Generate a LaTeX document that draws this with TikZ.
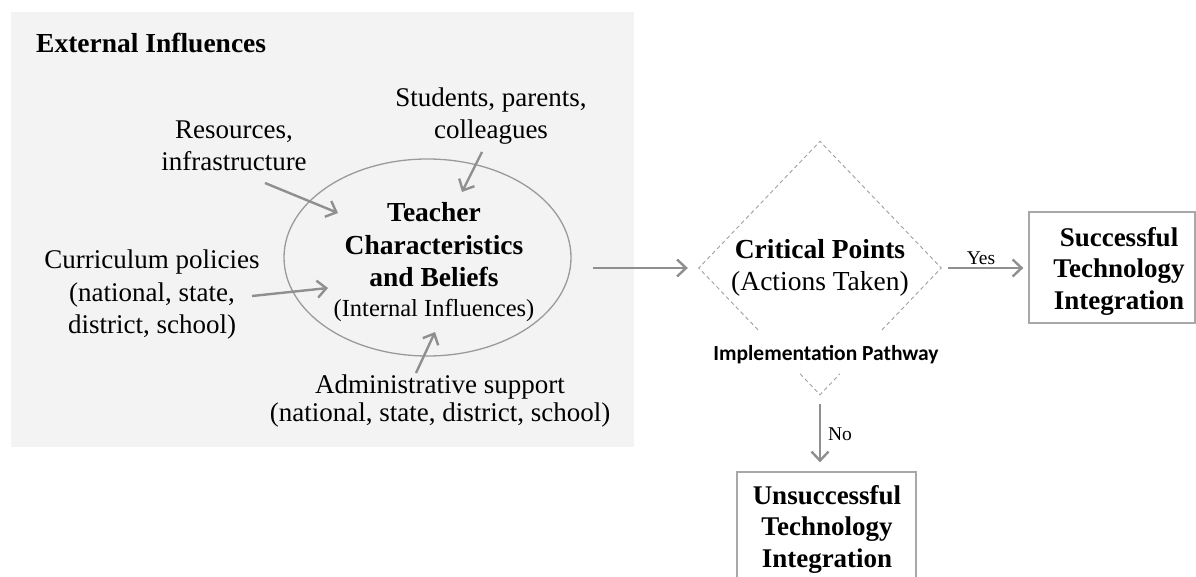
\documentclass[tikz,border=0pt]{standalone}
\usepackage{fontspec}
\setmainfont{Liberation Serif}
\newfontfamily\calibrifont{Carlito}
\usetikzlibrary{shapes.geometric,arrows.meta,calc}
\definecolor{bggray}{HTML}{F3F3F3}
\definecolor{arrgray}{HTML}{8F8F8F}
\definecolor{linegray}{HTML}{9A9A9A}
\definecolor{boxgray}{HTML}{A8A8A8}
\definecolor{dashgray}{HTML}{A0A0A0}
\tikzset{
  txt/.style={align=center,inner sep=0pt,font=\fontsize{27}{32.5}\selectfont},
  btxt/.style={align=center,inner sep=0pt,font=\fontsize{27}{31.5}\selectfont\bfseries},
  lbl/.style={inner sep=0pt,font=\fontsize{19.5}{22}\selectfont},
  arr/.style={draw=arrgray,line width=2.4pt,-{Straight Barb[length=9pt,width=17pt]}},
  outbox/.style={draw=boxgray,line width=1.3pt,inner sep=0pt},
  dashedge/.style={draw=dashgray,line width=0.9pt,dash pattern=on 4pt off 3pt},
}
\begin{document}
\begin{tikzpicture}[x=1pt,y=-1pt]
\useasboundingbox (0,0) rectangle (1196,577);
\clip (0,0) rectangle (1196,577);
% background panel
\node[fill=bggray,inner sep=0pt,minimum width=623,minimum height=435,anchor=north west] (panel) at (11,12) {};
\node[anchor=west,inner sep=0pt,font=\fontsize{27.5}{32}\selectfont\bfseries] (title) at (36,43) {External Influences};
% ellipse
\node[ellipse,draw=linegray,line width=1.3pt,minimum width=287,minimum height=197,inner sep=0pt] (tc) at (427.5,257.5) {};
\node[align=center,inner sep=0pt,font=\fontsize{27.5}{32.5}\selectfont\bfseries] (tct) at (434,262) {Teacher\\Characteristics\\and Beliefs\\[-3pt]{\fontsize{24.5}{28}\selectfont\mdseries (Internal Influences)}};
% external labels
\node[txt] (stu) at (491,116) {Students, parents,\\colleagues};
\node[txt] (res) at (234,146) {Resources,\\infrastructure};
\node[txt] (cur) at (152,295) {Curriculum policies\\(national, state,\\district, school)};
\node[txt,font=\fontsize{27}{28.5}\selectfont] (adm) at (440,401) {Administrative support\\(national, state, district, school)};
% arrow end coordinates
\coordinate (resA) at (265,183); \coordinate (resB) at (338,213);
\coordinate (stuA) at (482,152); \coordinate (stuB) at (462,192);
\coordinate (curA) at (252,296); \coordinate (curB) at (328,288);
\coordinate (admA) at (416,373); \coordinate (admB) at (435,332);
\draw[arr] (resA) -- (resB);
\draw[arr] (stuA) -- (stuB);
\draw[arr] (curA) -- (curB);
\draw[arr] (admA) -- (admB);
% diamond (outline drawn with a gap for the pathway label)
\node[diamond,minimum width=242,minimum height=253,inner sep=0pt] (cp) at (820,268) {};
\draw[dashedge] ($(cp.west)!0.488!(cp.south)$) -- (cp.west) -- (cp.north) -- (cp.east) -- ($(cp.east)!0.488!(cp.south)$);
\draw[dashedge] ($(cp.west)!0.835!(cp.south)$) -- (cp.south) -- ($(cp.east)!0.835!(cp.south)$);
\node[align=center,inner sep=0pt,font=\fontsize{27.5}{32}\selectfont] (cpt) at (820,268) {{\bfseries Critical Points}\\(Actions Taken)};
\node[anchor=base,inner sep=0pt,font=\calibrifont\bfseries\fontsize{21.5}{24}\selectfont] (ip) at (826,360) {Implementation Pathway};
% outcome boxes
\node[outbox,minimum width=166,minimum height=111] (sb) at (1112,267.5) {};
\node[btxt] (sbt) at (1119,271) {Successful\\Technology\\Integration};
\node[outbox,minimum width=179,minimum height=130] (ub) at (826.5,537) {};
\node[btxt] (ubt) at (827,529) {Unsuccessful\\Technology\\Integration};
% connectors
\draw[arr,shorten <=21pt,shorten >=11pt] (tc.east |- cp.west) -- (cp.west);
\draw[arr,shorten <=7pt,shorten >=5pt] (cp.east) -- (sb.west |- cp.east);
\draw[arr,shorten <=9pt,shorten >=9pt] (cp.south) -- (cp.south |- ub.north);
\node[lbl] (yes) at (981,258) {Yes};
\node[lbl] (no) at (840,434) {No};
\end{tikzpicture}
\end{document}
